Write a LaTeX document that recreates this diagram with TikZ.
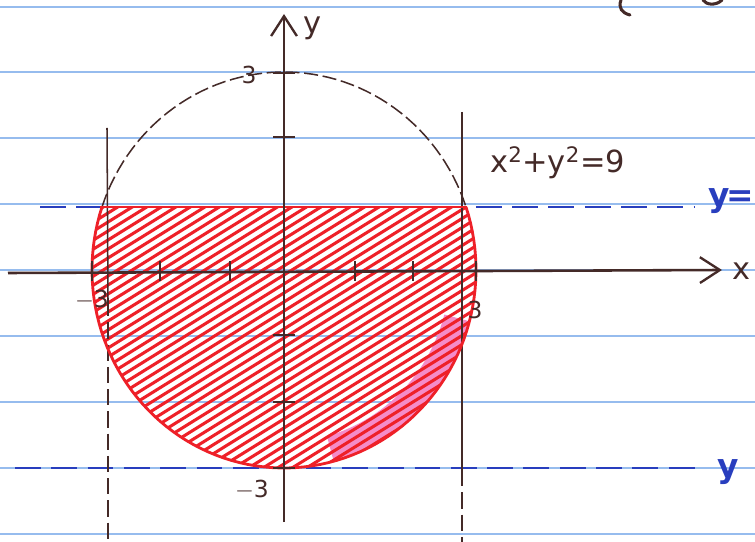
\documentclass[tikz,border=0pt]{standalone}
\usepackage{fontspec}
\setmainfont{DejaVu Sans}
\usetikzlibrary{arrows.meta}
\definecolor{ink}{RGB}{68,42,40}
\definecolor{redink}{RGB}{238,32,40}
\definecolor{blueink}{RGB}{40,62,190}
\definecolor{rulecol}{RGB}{150,188,238}
\definecolor{pinkink}{RGB}{245,140,200}
\tikzset{
  ruleline/.style={rulecol, line width=1.5pt},
  axis/.style={ink, line width=2.2pt, -{Straight Barb[length=17pt,width=22pt,line width=2pt]}},
  tickmark/.style={ink, line width=1.8pt},
  guide/.style={ink, line width=1.3pt},
  guidedash/.style={ink, line width=1.3pt, dash pattern=on 14pt off 5pt},
  circdash/.style={ink, line width=1.3pt, dash pattern=on 12pt off 4pt},
  bluedash/.style={blueink, line width=2pt, dash pattern=on 22pt off 9pt},
  redline/.style={redink, line width=2.4pt},
  hatch/.style={redink, line width=2.6pt},
  hand/.style={ink, font=\fontsize{26}{26}\selectfont, inner sep=0pt},
  handsmall/.style={ink, font=\fontsize{20}{20}\selectfont, inner sep=0pt},
  bluehand/.style={blueink, font=\fontsize{28}{28}\selectfont\bfseries, inner sep=0pt},
  fragment/.style={ink, line width=2.6pt, line cap=round}
}
\begin{document}
\begin{tikzpicture}[x=0.03cm,y=-0.03cm]
\useasboundingbox (0,0) rectangle (755,542);
\fill[white] (0,0) rectangle (755,542);
% ruled paper lines
\foreach \yy in {7,72,138,204,270,336,402,468,534} \draw[ruleline] (0,\yy) -- (755,\yy);
% shaded region: disc below y = 1
\begin{scope}
  \clip (0,207) rectangle (755,542);
  \clip plot[domain=0:360,samples=120] ({284+192*cos(\x)},{270+198*sin(\x)}) -- cycle;
  \fill[pinkink] plot[domain=15:75,samples=30] ({284+195*cos(\x)},{270+201*sin(\x)})
     -- plot[domain=75:15,samples=30] ({284+166*cos(\x)},{270+172*sin(\x)}) -- cycle;
  \foreach \c in {244,253,...,790} \draw[hatch] (0,\c) -- (755,{\c-0.62*755});
\end{scope}
% blue dashed lines
\coordinate (b1l) at (40,207); \coordinate (b1r) at (695,207);
\coordinate (b2l) at (15,468); \coordinate (b2r) at (705,468);
\draw[bluedash] (b1l) -- (b1r);
\draw[bluedash] (b2l) -- (b2r);
% vertical guide lines
\coordinate (vlt) at (107,128); \coordinate (vlm) at (108,300); \coordinate (vlb) at (108,542);
\coordinate (vrt) at (462,112); \coordinate (vrm) at (462,470); \coordinate (vrb) at (462,542);
\draw[guide] (vlt) -- (vlm);
\draw[guidedash] (vlm) -- (vlb);
\draw[guide] (vrt) -- (vrm);
\draw[guidedash] (vrm) -- (vrb);
% circle: dashed upper part, red lower boundary
\draw[circdash] plot[domain=198.55:341.45,samples=60] ({284+192*cos(\x)},{270+198*sin(\x)});
\draw[redline] plot[domain=-18.55:198.55,samples=90] ({284+192*cos(\x)},{270+198*sin(\x)});
\coordinate (chl) at (100,207); \coordinate (chr) at (467,207);
\draw[redline] (chl) -- (chr);
% axes
\coordinate (xl) at (8,273); \coordinate (xr) at (722,270);
\coordinate (yb) at (284,522); \coordinate (yt) at (284,14);
\draw[axis] (xl) -- (xr);
\draw[axis] (yb) -- (yt);
% ticks on y axis
\foreach \yy in {73,137,335,402,468} \draw[tickmark] (273,\yy) -- (295,\yy);
% ticks on x axis
\foreach \xx in {92,160,230,355,413,476} \draw[tickmark] (\xx,261) -- (\xx,281);
% labels
\node[hand] (ylab) at (313,28) {y};
\node[hand] (xlab) at (742,271) {x};
\node[handsmall] (ly3) at (249,75) {3};
\node[handsmall] (lym3) at (252,490) {$-$3};
\node[handsmall] (lxm3) at (92,300) {$-$3};
\node[handsmall] (lx3) at (475,310) {3};
\node[hand, anchor=base west] (eq) at (490,173) {x\textsuperscript{2}+y\textsuperscript{2}=9};
\node[bluehand] (by1) at (719,201) {y};
\node[bluehand, anchor=east] (beq) at (754,199) {=};
\node[bluehand] (by2) at (728,472) {y};
% letter fragments cut by the top edge
\begin{scope}
  \clip (0,0) rectangle (755,542);
  \draw[fragment] (621,0) .. controls (618,8) and (622,13) .. (630,15);
  \draw[fragment] (703,0) .. controls (706,5) and (716,6) .. (722,0);
\end{scope}
\end{tikzpicture}
\end{document}
